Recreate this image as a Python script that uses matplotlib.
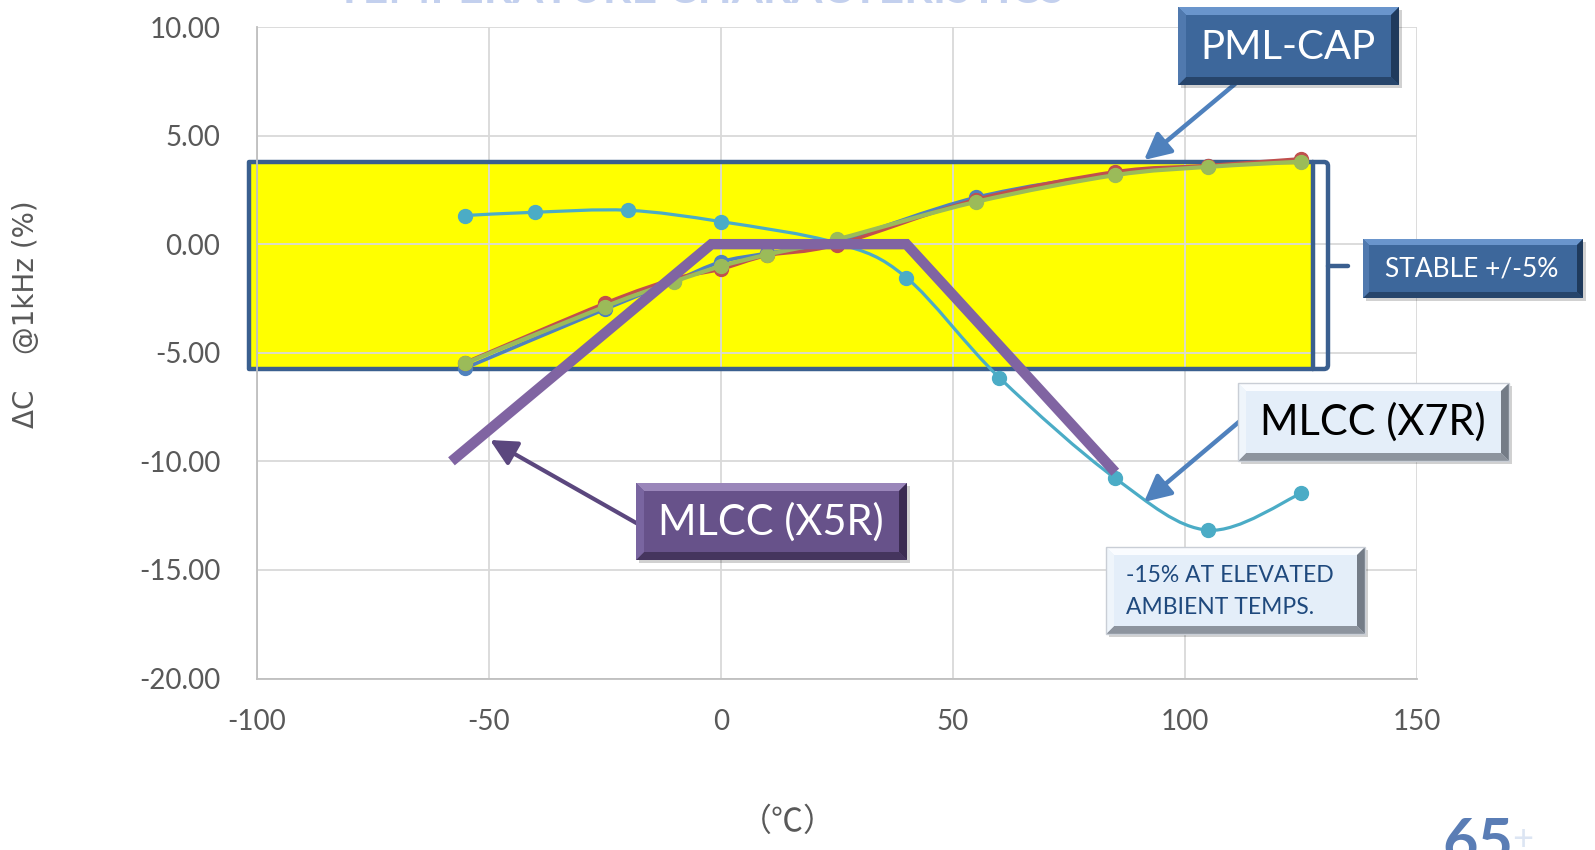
import matplotlib
matplotlib.use("Agg")
import matplotlib.pyplot as plt
from matplotlib.patches import Rectangle, Polygon, FancyArrowPatch, PathPatch
from matplotlib.path import Path
import numpy as np

# ---- data -------------------------------------------------------------
temp_x7r = [-55, -40, -20, 0, 25, 40, 60, 85, 105, 125]
dc_x7r = [1.32, 1.47, 1.56, 1.04, 0.05, -1.54, -6.14, -10.78, -13.17, -11.48]

temp_pml = [-55, -25, -10, 0, 10, 25, 55, 85, 105, 125]
dc_pml_a = [-5.70, -3.00, -1.70, -0.82, -0.42, 0.12, 2.15, 3.25, 3.60, 3.85]   # blue
dc_pml_b = [-5.45, -2.73, -1.60, -1.15, -0.52, -0.02, 2.05, 3.33, 3.62, 3.93]  # red
dc_pml_c = [-5.48, -2.88, -1.72, -1.02, -0.48, 0.22, 1.95, 3.18, 3.56, 3.80]   # green

temp_x5r = [-58, -2, 40, 85]
dc_x5r = [-10.0, 0.0, 0.0, -10.5]

band_x = [-101.6, 127.6]
band_y = [-5.75, 3.78]

x_ticks = [-100, -50, 0, 50, 100, 150]
y_ticks = [10, 5, 0, -5, -10, -15, -20]

# ---- style ------------------------------------------------------------
C_CYAN = "#4BACC6"
C_BLUE = "#4F81BD"
C_RED = "#C0504D"
C_GREEN = "#9BBB59"
C_PURPLE = "#8064A2"
C_TEXT = "#595959"
C_NAVY = "#3A5F8F"
LATO = "Lato"

W, H = 1595, 850
fig = plt.figure(figsize=(W / 100, H / 100), dpi=100)
fig.patch.set_facecolor("white")

ax = fig.add_axes([256.5 / W, 1 - 678.5 / H, (1417 - 256.5) / W, (678.5 - 27) / H])
ax.set_xlim(-100, 150)
ax.set_ylim(-20, 10)
ax.set_xticks(x_ticks)
ax.set_yticks(y_ticks)
ax.set_xticklabels([str(v) for v in x_ticks], fontfamily=LATO, fontsize=20, color=C_TEXT)
ax.set_yticklabels([f"{v:.2f}" for v in y_ticks], fontfamily=LATO, fontsize=20, color=C_TEXT)
ax.tick_params(axis="both", length=0)
ax.tick_params(axis="y", pad=26)
ax.tick_params(axis="x", pad=22)
ax.grid(True, color="#D9D9D9", lw=1.3, zorder=0.5)
ax.set_axisbelow(True)
for s in ("top", "right"):
    ax.spines[s].set_visible(False)
for s in ("left", "bottom"):
    ax.spines[s].set_color("#BFBFBF")
    ax.spines[s].set_linewidth(1.3)


def smooth_path(xs, ys):
    """Cubic Bezier path through the points (spreadsheet-style smoothing)."""
    p = np.column_stack([xs, ys]).astype(float)
    n = len(p)
    verts = [p[0]]
    codes = [Path.MOVETO]
    for i in range(n - 1):
        p0 = p[i - 1] if i > 0 else p[i]
        p1, p2 = p[i], p[i + 1]
        p3 = p[i + 2] if i + 2 < n else p[i + 1]
        c1 = p1 + (p2 - p0) / 6.0
        c2 = p2 - (p3 - p1) / 6.0
        verts += [c1, c2, p2]
        codes += [Path.CURVE4] * 3
    return Path(verts, codes)


def smooth_series(xs, ys, color, lw, ms, z):
    ax.add_patch(PathPatch(smooth_path(xs, ys), fill=False, edgecolor=color,
                           lw=lw, zorder=z, capstyle="round", joinstyle="round"))
    ax.plot(xs, ys, "o", color=color, ms=ms, zorder=z + 0.05, mec=color)


# stable band
ax.add_patch(Rectangle((band_x[0], band_y[0]), band_x[1] - band_x[0], band_y[1] - band_y[0],
                       facecolor="#FFFF00", edgecolor="none", zorder=0.3, clip_on=False))
ax.add_patch(Rectangle((band_x[0], band_y[0]), band_x[1] - band_x[0], band_y[1] - band_y[0],
                       facecolor="none", edgecolor=C_NAVY, lw=3.2, zorder=1.0, clip_on=False,
                       joinstyle="round"))

smooth_series(temp_x7r, dc_x7r, C_CYAN, 2.3, 10, 2.0)
smooth_series(temp_pml, dc_pml_a, C_BLUE, 2.6, 10, 2.2)
smooth_series(temp_pml, dc_pml_b, C_RED, 2.6, 10, 2.4)
smooth_series(temp_pml, dc_pml_c, C_GREEN, 3.0, 10, 2.6)
ax.plot(temp_x5r, dc_x5r, color=C_PURPLE, lw=7.5, zorder=3, solid_joinstyle="miter",
        solid_capstyle="butt")

# ---- annotation layer in pixel coordinates -----------------------------
ov = fig.add_axes([0, 0, 1, 1], zorder=5)
ov.set_xlim(0, W)
ov.set_ylim(H, 0)
ov.axis("off")
ov.patch.set_visible(False)


def bevel_box(x0, y0, x1, y1, main, top, left, right, bottom, b=8, edge=None):
    ov.add_patch(Rectangle((x0 + 3, y0 + 3), x1 - x0, y1 - y0, facecolor="#000000",
                           alpha=0.18, edgecolor="none"))
    ov.add_patch(Rectangle((x0, y0), x1 - x0, y1 - y0, facecolor=main, edgecolor="none"))
    ov.add_patch(Polygon([(x0, y0), (x1, y0), (x1 - b, y0 + b), (x0 + b, y0 + b)],
                         facecolor=top, edgecolor="none"))
    ov.add_patch(Polygon([(x0, y1), (x1, y1), (x1 - b, y1 - b), (x0 + b, y1 - b)],
                         facecolor=bottom, edgecolor="none"))
    ov.add_patch(Polygon([(x0, y0), (x0 + b, y0 + b), (x0 + b, y1 - b), (x0, y1)],
                         facecolor=left, edgecolor="none"))
    ov.add_patch(Polygon([(x1, y0), (x1 - b, y0 + b), (x1 - b, y1 - b), (x1, y1)],
                         facecolor=right, edgecolor="none"))
    if edge:
        ov.add_patch(Rectangle((x0, y0), x1 - x0, y1 - y0, facecolor="none",
                               edgecolor=edge, lw=1.0))


BLUE_BOX = dict(main="#3D679B", top="#6A95CC", left="#5079AE", right="#1F3A5C", bottom="#27456B")
PURPLE_BOX = dict(main="#67528A", top="#9A86BA", left="#7965A0", right="#3B2C52", bottom="#45355E")
LIGHT_BOX = dict(main="#E4EEF9", top="#FAFCFF", left="#EFF5FB", right="#747C87", bottom="#8D949E")


def arrow(p_from, p_to, color, lw):
    ov.add_patch(FancyArrowPatch(p_from, p_to, arrowstyle="-|>,head_length=1.0,head_width=0.5",
                                 mutation_scale=16, color=color, lw=lw,
                                 shrinkA=0, shrinkB=0))


# bracket beside the band
yt, yb, ym = 162, 369, 266
bx = 1328
brace = Path([(1312, yt), (bx - 4, yt), (bx, yt), (bx, yt + 4), (bx, yb - 4),
              (bx, yb), (bx - 4, yb), (1312, yb)],
             [Path.MOVETO, Path.LINETO, Path.CURVE3, Path.CURVE3, Path.LINETO,
              Path.CURVE3, Path.CURVE3, Path.LINETO])
ov.add_patch(PathPatch(brace, fill=False, edgecolor=C_NAVY, lw=3.2))
ov.plot([bx, 1348], [ym, ym], color=C_NAVY, lw=3.2, solid_capstyle="round")

# PML-CAP
arrow((1235, 84), (1144, 160), C_BLUE, 3.2)
bevel_box(1178, 7, 1399, 85, **BLUE_BOX)
ov.text(1288, 47, "PML-CAP", fontfamily=LATO, fontsize=29, color="white",
        ha="center", va="center")

# STABLE +/-5%
bevel_box(1363, 239, 1583, 298, **BLUE_BOX, b=6)
ov.text(1472, 269, "STABLE +/-5%", fontfamily=LATO, fontsize=19, color="white",
        ha="center", va="center")

# MLCC (X7R)
arrow((1240, 421), (1144, 502), C_BLUE, 3.2)
bevel_box(1238, 383, 1509, 461, **LIGHT_BOX, edge="#C9CED6")
ov.text(1373, 422, "MLCC (X7R)", fontfamily=LATO, fontsize=30, color="black",
        ha="center", va="center")

# elevated temperature note
bevel_box(1106, 547, 1365, 634, **LIGHT_BOX, edge="#C9CED6")
ov.text(1126, 576, "-15% AT ELEVATED", fontfamily=LATO, fontsize=16.5, color="#1F497D",
        ha="left", va="center")
ov.text(1126, 608, "AMBIENT TEMPS.", fontfamily=LATO, fontsize=16.5, color="#1F497D",
        ha="left", va="center")

# MLCC (X5R)
arrow((638, 524), (490, 440), "#5B477E", 3.0)
bevel_box(636, 483, 907, 560, **PURPLE_BOX)
ov.text(771, 522, "MLCC (X5R)", fontfamily=LATO, fontsize=30, color="white",
        ha="center", va="center")

# axis titles
ov.text(26, 314, "ΔC    @1kHz (%)", fontfamily="DejaVu Sans", fontsize=20, color=C_TEXT,
        rotation=90, ha="center", va="center")
ov.text(788, 822, "（℃）", fontfamily=["Noto Sans CJK SC", "DejaVu Sans"], fontsize=23,
        color=C_TEXT, ha="center", va="center")

# heading running off the top edge
ov.text(700, 3, "TEMPERATURE CHARACTERISTICS", fontfamily=LATO, fontweight="bold",
        fontsize=32, color="#C3D0EE", ha="center", va="baseline")

# corner mark
ov.text(1442, 862, "65", fontfamily=LATO, fontweight="bold", fontsize=44, color="#5A7DB5",
        ha="left", va="baseline")
ov.text(1512, 850, "+", fontfamily=LATO, fontsize=26, color="#DCE5F3",
        ha="left", va="baseline")

fig.savefig("out.png", dpi=100)
